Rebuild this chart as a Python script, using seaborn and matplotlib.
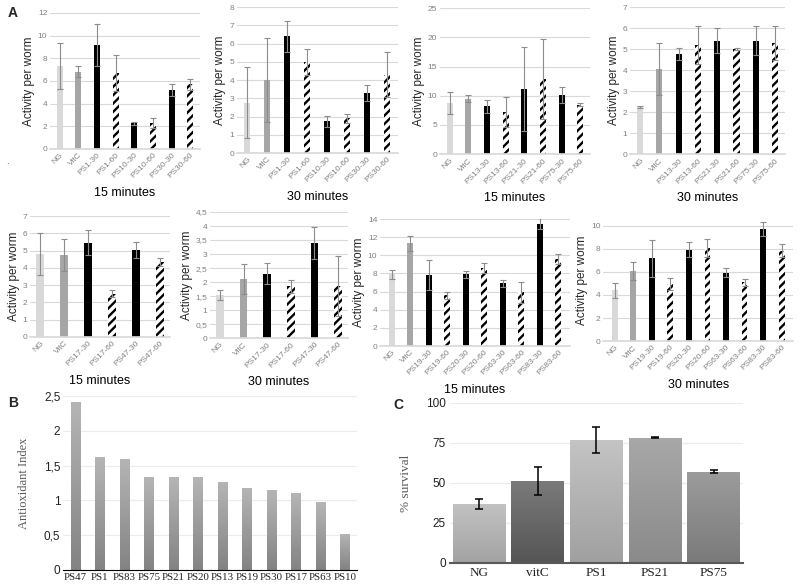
import numpy as np
import pandas as pd
import matplotlib
matplotlib.use("Agg")
import matplotlib.pyplot as plt
from matplotlib.colors import LinearSegmentedColormap
import seaborn as sns

sns.set_theme(style="white")
plt.rcParams['font.family'] = ['Liberation Sans', 'DejaVu Sans']
plt.rcParams['hatch.linewidth'] = 1.7

# ---- panel A, activity per worm ----
lab_ps1 = ["NG", "VitC", "PS1-30", "PS1-60", "PS10-30", "PS10-60", "PS30-30", "PS30-60"]
ps1_15 = [7.3, 6.8, 9.2, 6.7, 2.25, 2.3, 5.2, 5.7]
ps1_15_err = [2.0, 0.5, 1.85, 1.6, 0.1, 0.45, 0.5, 0.5]
ps1_30 = [2.75, 4.0, 6.4, 5.0, 1.75, 1.9, 3.3, 4.3]
ps1_30_err = [1.95, 2.3, 0.85, 0.7, 0.3, 0.25, 0.45, 1.25]

lab_ps13 = ["NG", "VitC", "PS13-30", "PS13-60", "PS21-30", "PS21-60", "PS75-30", "PS75-60"]
ps13_15 = [8.7, 9.5, 8.2, 7.2, 11.2, 12.9, 10.1, 8.5]
ps13_15_err = [1.9, 0.6, 1.1, 2.6, 7.2, 6.9, 1.4, 0.3]
ps13_30 = [2.25, 4.05, 4.75, 5.2, 5.4, 5.0, 5.4, 5.3]
ps13_30_err = [0.03, 1.25, 0.28, 0.9, 0.6, 0.05, 0.68, 0.82]

lab_ps17 = ["NG", "VitC", "PS17-30", "PS17-60", "PS47-30", "PS47-60"]
ps17_15 = [4.8, 4.75, 5.45, 2.5, 5.05, 4.35]
ps17_15_err = [1.2, 0.95, 0.73, 0.2, 0.45, 0.25]
ps17_30 = [1.55, 2.12, 2.3, 1.85, 3.4, 1.85]
ps17_30_err = [0.18, 0.53, 0.37, 0.23, 0.58, 1.07]

lab_ps19 = ["NG", "VitC", "PS19-30", "PS19-60", "PS20-30", "PS20-60",
            "PS63-30", "PS63-60", "PS83-30", "PS83-60"]
ps19_15 = [7.9, 11.3, 7.85, 5.6, 7.9, 8.6, 6.9, 5.9, 13.5, 9.6]
ps19_15_err = [0.5, 0.8, 1.65, 0.4, 0.35, 0.6, 0.35, 1.2, 0.65, 0.55]
ps19_30 = [4.4, 6.1, 7.2, 4.95, 7.95, 8.1, 5.95, 5.1, 9.7, 7.85]
ps19_30_err = [0.65, 0.8, 1.6, 0.55, 0.65, 0.8, 0.4, 0.3, 0.6, 0.55]

# ---- panel B, antioxidant index ----
b_labels = ["PS47", "PS1", "PS83", "PS75", "PS21", "PS20", "PS13", "PS19",
            "PS30", "PS17", "PS63", "PS10"]
b_index = [2.42, 1.62, 1.59, 1.33, 1.33, 1.33, 1.27, 1.18, 1.15, 1.10, 0.97, 0.52]
b_ticks = [0, 0.5, 1, 1.5, 2, 2.5]

# ---- panel C, survival ----
c_labels = ["NG", "vitC", "PS1", "PS21", "PS75"]
c_surv = [37, 51, 77, 78.3, 57]
c_err = [3, 8.8, 8, 0.4, 0.8]
c_ticks = [0, 25, 50, 75, 100]


def bar_colour(lab):
    if lab == "NG":
        return "#d9d9d9"
    if lab == "VitC":
        return "#a6a6a6"
    if lab.endswith("-30"):
        return "black"
    return "white"


def comma(v):
    return ("%g" % v).replace(".", ",")


def activity(ax, labels, vals, errs, ticks, top, xlabel, pad, use_comma=False):
    df = pd.DataFrame({"grp": labels, "val": vals})
    sns.barplot(data=df, x="grp", y="val", hue="grp", legend=False,
                palette=[bar_colour(l) for l in labels], saturation=1,
                width=0.32, linewidth=0, errorbar=None, ax=ax)
    for lab, p in zip(labels, ax.patches):
        if lab.endswith("-60"):
            p.set_hatch("////")
            p.set_edgecolor("black")
            p.set_linewidth(0)
    ax.errorbar(np.arange(len(labels)), vals, yerr=errs, fmt="none",
                ecolor="#8c8c8c", elinewidth=0.8, capsize=2, capthick=0.8, zorder=5)
    ax.set_ylim(0, top)
    ax.set_yticks(ticks)
    if use_comma:
        ax.set_yticklabels([comma(t) for t in ticks])
    ax.yaxis.grid(True, color="#d9d9d9", lw=0.8)
    ax.set_axisbelow(True)
    for s in ["top", "right", "left"]:
        ax.spines[s].set_visible(False)
    ax.spines["bottom"].set_color("#d9d9d9")
    ax.tick_params(length=0, labelsize=6, labelcolor="#808080", pad=2)
    plt.setp(ax.get_xticklabels(), rotation=45, ha="right", rotation_mode="anchor")
    ax.set_ylabel("Activity per worm", fontsize=8.5, color="#262626", labelpad=2)
    ax.set_xlabel(xlabel, fontsize=9, color="black", labelpad=pad)


def shade(ax, pairs):
    for p, (c_top, c_bot) in zip(ax.patches, pairs):
        x0, y0 = p.get_x(), p.get_y()
        w, h = p.get_width(), p.get_height()
        cmap = LinearSegmentedColormap.from_list("g", [c_bot, c_top])
        grad = np.linspace(1, 0, 128).reshape(-1, 1)
        im = ax.imshow(grad, extent=[x0, x0 + w, y0, y0 + h], cmap=cmap,
                       aspect="auto", zorder=p.get_zorder() + 0.1)
        im.set_clip_path(p)


fig = plt.figure(figsize=(8, 5.84), dpi=100)

# row 1
ax = fig.add_axes([0.0625, 0.745, 0.1875, 0.233])
activity(ax, lab_ps1, ps1_15, ps1_15_err, range(0, 13, 2), 12, "15 minutes", 5)
ax = fig.add_axes([0.296, 0.738, 0.201, 0.25])
activity(ax, lab_ps1, ps1_30, ps1_30_err, range(0, 9), 8, "30 minutes", 5)
ax = fig.add_axes([0.55, 0.736, 0.1875, 0.25])
activity(ax, lab_ps13, ps13_15, ps13_15_err, range(0, 26, 5), 25, "15 minutes", 5)
ax = fig.add_axes([0.7875, 0.736, 0.194, 0.252])
activity(ax, lab_ps13, ps13_30, ps13_30_err, range(0, 8), 7, "30 minutes", 5)

# row 2
ax = fig.add_axes([0.0375, 0.423, 0.175, 0.207])
activity(ax, lab_ps17, ps17_15, ps17_15_err, range(0, 8), 7, "15 minutes", 5)
ax = fig.add_axes([0.2625, 0.421, 0.1725, 0.216])
activity(ax, lab_ps17, ps17_30, ps17_30_err, np.arange(0, 4.6, 0.5), 4.5,
         "30 minutes", 5, use_comma=True)
ax = fig.add_axes([0.475, 0.4075, 0.2375, 0.2175])
activity(ax, lab_ps19, ps19_15, ps19_15_err, range(0, 15, 2), 14, "15 minutes", 5)
ax = fig.add_axes([0.754, 0.416, 0.2375, 0.209])
activity(ax, lab_ps19, ps19_30, ps19_30_err, range(0, 11, 2), 10.6, "30 minutes", 5)

# panel B
axb = fig.add_axes([0.079, 0.024, 0.3675, 0.298])
dfb = pd.DataFrame({"iso": b_labels, "idx": b_index})
sns.barplot(data=dfb, x="iso", y="idx", color="#a0a0a0", saturation=1,
            width=0.4, linewidth=0, errorbar=None, ax=axb)
shade(axb, [("#b5b5b5", "#838383")] * len(b_labels))
axb.set_xlim(-0.5, len(b_labels) - 0.5)
axb.set_ylim(0, 2.5)
axb.set_yticks(b_ticks)
axb.set_yticklabels([comma(t) for t in b_ticks])
axb.yaxis.grid(True, color="#ececec", lw=0.8)
axb.set_axisbelow(True)
for s in ["top", "right", "left"]:
    axb.spines[s].set_visible(False)
axb.spines["bottom"].set_color("black")
axb.spines["bottom"].set_linewidth(0.8)
axb.tick_params(length=0, labelsize=8.5, labelcolor="#222222", pad=2)
for t in axb.get_xticklabels():
    t.set_family("Liberation Serif")
    t.set_fontsize(7.8)
axb.set_xlabel("")
axb.set_ylabel("Antioxidant Index", family="Liberation Serif", fontsize=9,
               color="#595959", labelpad=10)

# panel C
axc = fig.add_axes([0.5625, 0.036, 0.366, 0.274])
dfc = pd.DataFrame({"grp": c_labels, "surv": c_surv})
sns.barplot(data=dfc, x="grp", y="surv", color="#a0a0a0", saturation=1,
            width=0.9, linewidth=0, errorbar=None, ax=axc)
shade(axc, [("#c2c2c2", "#a3a3a3"), ("#7a7a7a", "#555555"), ("#c4c4c4", "#a0a0a0"),
            ("#a8a8a8", "#8a8a8a"), ("#9c9c9c", "#7a7a7a")])
axc.errorbar(np.arange(len(c_labels)), c_surv, yerr=c_err, fmt="none",
             ecolor="black", elinewidth=1.1, capsize=3, capthick=1.1, zorder=6)
axc.set_xlim(-0.5, len(c_labels) - 0.5)
axc.set_ylim(0, 100)
axc.set_yticks(c_ticks)
axc.yaxis.grid(True, color="#ececec", lw=0.8)
axc.set_axisbelow(True)
for s in ["top", "right", "left"]:
    axc.spines[s].set_visible(False)
axc.spines["bottom"].set_color("#595959")
axc.spines["bottom"].set_linewidth(1.5)
axc.tick_params(length=0, labelsize=8.5, labelcolor="#222222", pad=3)
for t in axc.get_xticklabels():
    t.set_family("Liberation Serif")
    t.set_fontsize(9.5)
axc.set_xlabel("")
axc.set_ylabel("% survival", family="Liberation Serif", fontsize=9.5,
               color="#595959", labelpad=10)

# panel letters
fig.text(0.01, 0.99, "A", fontsize=10, weight="bold", va="top")
fig.text(0.01, 0.322, "B", fontsize=10, weight="bold", va="top")
fig.text(0.492, 0.318, "C", fontsize=10, weight="bold", va="top")
fig.text(0.008, 0.72, ".", fontsize=7, color="#555555")

fig.savefig("out.png", dpi=100)
